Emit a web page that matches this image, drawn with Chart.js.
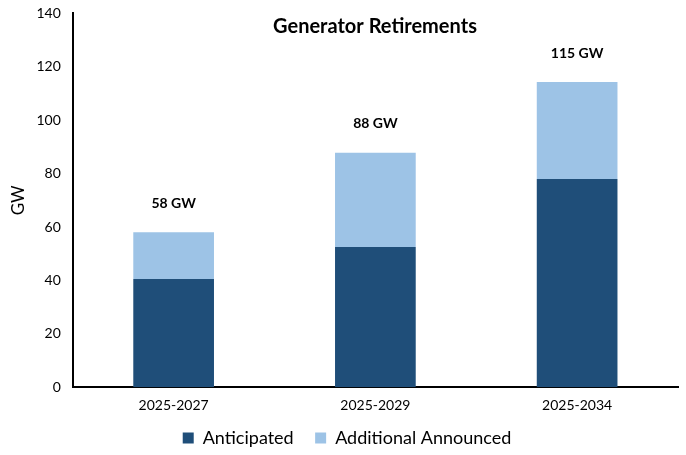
<!DOCTYPE html>
<html>
<head>
<meta charset="utf-8">
<script src="https://cdn.jsdelivr.net/npm/chart.js@4.4.1/dist/chart.umd.min.js"></script>
<style>
  html, body { margin: 0; padding: 0; background: #fff; }
  #wrap { width: 686px; height: 455px; }
</style>
</head>
<body>
<div id="wrap"><canvas id="chart" width="686" height="455"></canvas></div>
<script>
const periods = ['2025-2027', '2025-2029', '2025-2034'];
const anticipated = [40.5, 52.5, 78];
const additionalAnnounced = [17.5, 35.3, 36.3];
const totalLabels = ['58 GW', '88 GW', '115 GW'];
const yTicks = [0, 20, 40, 60, 80, 100, 120, 140];

const FONT = 'Lato, "Open Sans", sans-serif';

// title sits inside the plot area, like the original
const titlePlugin = {
    id: 'innerTitle',
    afterDraw(chart) {
        const ctx = chart.ctx;
        ctx.save();
        ctx.font = 'bold 20px ' + FONT;
        ctx.fillStyle = '#000';
        ctx.textAlign = 'center';
        ctx.textBaseline = 'middle';
        ctx.fillText('Generator Retirements', 375, 27);
        ctx.restore();
    }
};

// total label above each stacked bar
const totalsPlugin = {
    id: 'totals',
    afterDatasetsDraw(chart) {
        const ctx = chart.ctx;
        const meta = chart.getDatasetMeta(1);
        ctx.save();
        ctx.font = 'bold 14px ' + FONT;
        ctx.fillStyle = '#000';
        ctx.textAlign = 'center';
        ctx.textBaseline = 'middle';
        meta.data.forEach((bar, i) => {
            ctx.fillText(totalLabels[i], bar.x, bar.y - 29);
        });
        ctx.restore();
    }
};

// nudge the legend a little to the right and down
const legendShift = {
    id: 'legendShift',
    afterLayout(chart) {
        chart.legend.left += 8;
        chart.legend.right += 8;
        chart.legend.top += 2;
        chart.legend.bottom += 2;
    }
};

new Chart(document.getElementById('chart').getContext('2d'), {
    type: 'bar',
    data: {
        labels: periods,
        datasets: [{
            label: 'Anticipated    ',
            data: anticipated,
            backgroundColor: '#1F4E79',
            categoryPercentage: 1,
            barPercentage: 0.4
        }, {
            label: 'Additional Announced',
            data: additionalAnnounced,
            backgroundColor: '#9DC3E6',
            categoryPercentage: 1,
            barPercentage: 0.4
        }]
    },
    options: {
        responsive: false,
        animation: false,
        layout: { padding: { top: 0, right: 8, left: 0, bottom: 0 } },
        scales: {
            x: {
                stacked: true,
                grid: { display: false, drawTicks: false },
                border: { color: '#000', width: 2 },
                ticks: { color: '#000', font: { size: 14, family: FONT }, padding: 10 }
            },
            y: {
                stacked: true,
                min: 0,
                max: 140,
                afterBuildTicks(axis) {
                    axis.ticks = yTicks.map(v => ({ value: v }));
                },
                grid: { display: false, drawTicks: true, tickLength: 7, tickColor: 'rgba(0,0,0,0)' },
                border: { color: '#000', width: 2 },
                ticks: { color: '#000', font: { size: 14, family: FONT }, padding: 5 },
                title: { display: true, text: 'GW', color: '#000', font: { size: 17, family: FONT }, padding: { top: 8, bottom: 3 } }
            }
        },
        plugins: {
            legend: {
                position: 'bottom',
                labels: {
                    color: '#000',
                    font: { size: 18, family: FONT },
                    boxWidth: 11,
                    boxHeight: 11,
                    padding: 3
                }
            },
            tooltip: { enabled: false }
        }
    },
    plugins: [titlePlugin, totalsPlugin, legendShift]
});
</script>
</body>
</html>
